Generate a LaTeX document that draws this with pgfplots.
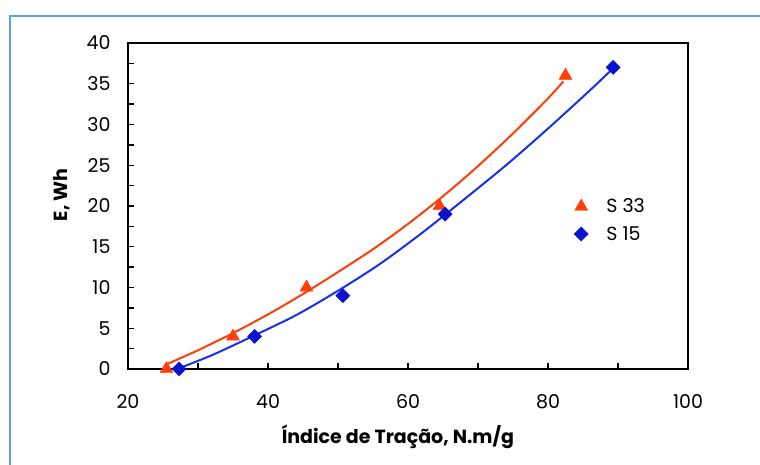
\documentclass[border=0pt]{standalone}
\usepackage{fontspec}
\setmainfont{Poppins}
\usepackage{pgfplots}
\pgfplotsset{compat=1.18}

\definecolor{sred}{RGB}{255,62,12}
\definecolor{sblue}{RGB}{22,50,232}
\definecolor{sbluedk}{RGB}{10,18,205}
\definecolor{frameblue}{RGB}{92,165,210}

\begin{document}
\begin{tikzpicture}
\useasboundingbox (0,0) rectangle (760pt,465pt);
\fill[white] (0,0) rectangle (760pt,465pt);
\draw[frameblue, line width=2pt] (9.5pt,-2pt) -- (9.5pt,448.5pt) -- (762pt,448.5pt);
\begin{axis}[
  at={(128pt,96pt)}, anchor=south west,
  scale only axis,
  width=560pt, height=326pt,
  xmin=20, xmax=100, ymin=0, ymax=40,
  xtick={20,40,...,100}, minor x tick num=1,
  ytick={0,5,...,40}, minor y tick num=1,
  xtick pos=bottom, ytick pos=left,
  tick align=inside,
  major tick length=6pt, minor tick length=6pt,
  every tick/.style={black, line width=1.3pt},
  axis line style={black, line width=1.6pt},
  clip=false,
  /pgf/number format/assume math mode=true,
  tick label style={font=\fontsize{19}{22}\selectfont},
  xticklabel style={yshift=-22pt},
  yticklabel style={xshift=-14pt},
  xlabel={Índice de Tração, N.m/g},
  ylabel={E, Wh},
  label style={font=\fontsize{19}{22}\selectfont\bfseries},
  xlabel style={at={(axis description cs:0.482,-0.209)}, anchor=center},
  ylabel style={at={(axis description cs:-0.118,0.534)}, anchor=center},
  legend style={draw=none, fill=none, at={(axis description cs:0.791,0.535)}, anchor=north west,
    font=\fontsize{19}{22}\selectfont, row sep=8pt, column sep=16pt},
  legend cell align=left,
]
% trend lines
\addplot[sred, line width=2pt, smooth, forget plot] coordinates {
  (25.3,0.5) (30,2.3) (35,4.4) (40,6.7) (45,9.2) (50,11.9) (55,14.7)
  (60,17.8) (65,21.2) (70,24.9) (75,28.9) (80,33.2) (82.2,35.3)
};
\addplot[sblue, line width=2pt, smooth, forget plot] coordinates {
  (27.3,0.1) (32,1.7) (38,4.1) (44,6.6) (50,9.6) (56,12.9) (62,16.7)
  (68,20.8) (74,25.0) (80,29.5) (86,34.2) (89.3,36.9)
};
% data points
\addplot[only marks, mark=triangle*, mark size=7.5pt, color=sred] coordinates {
  (25.5,0) (35,4) (45.5,10) (64.5,20) (82.5,36)
};
\addlegendentry{S 33}
\addplot[only marks, mark=square*, mark size=5pt, mark options={rotate=45}, color=sbluedk] coordinates {
  (27.3,0) (38.1,4) (50.7,9) (65.3,19) (89.3,37)
};
\addlegendentry{S 15}
\end{axis}
\end{tikzpicture}
\end{document}
